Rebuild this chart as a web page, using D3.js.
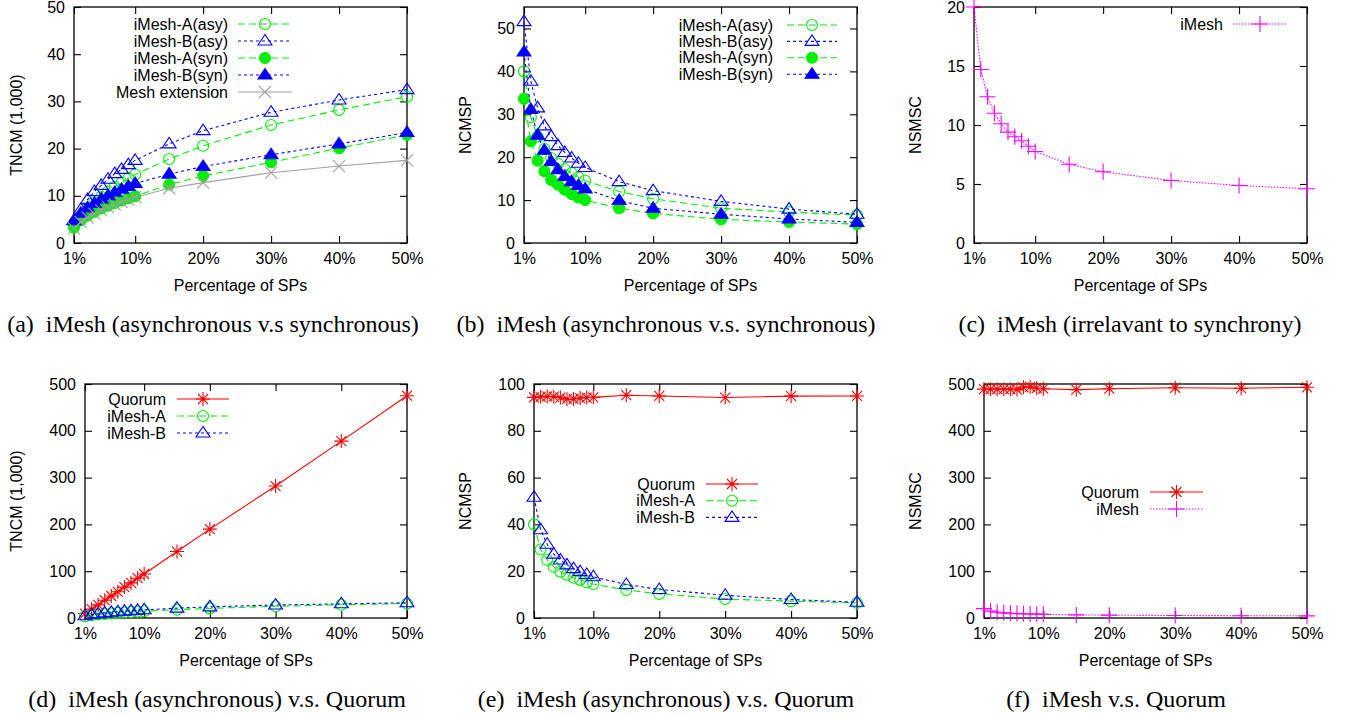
<!DOCTYPE html>
<html><head><meta charset="utf-8">
<script src="https://cdn.jsdelivr.net/npm/d3@7"></script>
<style>body{margin:0;background:#fff} svg{display:block}</style>
</head><body>
<svg id="c" width="1346" height="717"></svg>
<script>
// ---------------- DATA ----------------
const xPct = [1,2,3,4,5,6,7,8,9,10,15,20,30,40,50];
const xTickVals = [1,10,20,30,40,50];
const xTickLabels = ["1%","10%","20%","30%","40%","50%"];

// (a) TNCM (1,000)
const tncmAAsy = [3.8,5.8,7.4,8.7,9.8,10.9,11.9,12.8,13.7,14.5,17.8,20.6,25.0,28.2,31.0];
const tncmBAsy = [4.8,7.1,9.2,10.9,12.2,13.5,14.7,15.6,16.6,17.5,21.0,23.8,27.7,30.3,32.5];
const tncmASyn = [3.3,4.8,5.8,6.6,7.3,7.9,8.5,9.0,9.5,9.9,12.4,14.2,17.1,20.1,22.9];
const tncmBSyn = [4.7,6.3,7.4,8.4,9.3,10.0,10.7,11.4,12.0,12.6,14.6,16.2,18.7,21.0,23.4];
const tncmMeshExt = [3.1,4.4,5.4,6.2,6.9,7.6,8.2,8.7,9.2,9.7,11.6,12.8,14.9,16.3,17.5];
const tncmTicks = [0,10,20,30,40,50];

// (b) NCMSP
const ncmspAAsy = [40.0,29.3,24.8,21.9,19.8,18.5,17.2,16.3,15.3,14.5,12.0,10.3,8.1,7.2,6.5];
const ncmspBAsy = [51.6,37.7,31.5,27.3,24.8,22.7,21.1,19.8,18.6,17.6,14.3,12.2,9.7,7.9,6.7];
const ncmspASyn = [33.6,23.7,19.2,16.7,14.7,13.6,12.4,11.4,10.6,10.0,8.1,6.9,5.5,4.9,4.4];
const ncmspBSyn = [44.5,31.1,25.1,21.6,19.0,17.1,15.5,14.3,13.4,12.6,9.9,8.1,6.7,5.6,4.8];
const ncmspTicks = [0,10,20,30,40,50];

// (c) NSMSC
const nsmscIMesh = [20.0,14.7,12.4,11.0,10.1,9.4,9.0,8.66,8.2,7.75,6.67,6.04,5.30,4.87,4.6];
const nsmscTicks = [0,5,10,15,20];

// (d) TNCM (1,000) vs Quorum
const tncmQuorum = [9.5,19,28,38,47,56,66,75,85,94,142,190,282,378,475];
const tncmQTicks = [0,100,200,300,400,500];

// (e) NCMSP vs Quorum
const ncmspQuorum = [94.3,94.5,94.7,94.6,94.2,93.5,93.6,94.0,94.2,94.3,95.2,94.9,94.2,94.8,94.9];
const ncmspQTicks = [0,20,40,60,80,100];

// (f) NSMSC vs Quorum
const nsmscQuorum = [489,489,489,489,489,488,493,494,491,490,488,490,492,491,493];
const nsmscQTicks = [0,100,200,300,400,500];

// ---------------- STYLES ----------------
const GREEN = "#00ee00", BLUE = "#0000ff", RED = "#ff0000", MAG = "#ff00ff", GRAY = "#a0a0a0";
const DASH_G = "7,4", DASH_B = "3,3", DASH_M = "1.5,1.5";

const panels = [
  {left:74,right:407,top:7,bottom:243,yMax:50,ticks:tncmTicks,ylabel:"TNCM (1,000)",ylx:16,
   series:[
    {name:"iMesh-A(asy)",v:tncmAAsy,c:GREEN,d:DASH_G,m:"circle"},
    {name:"iMesh-B(asy)",v:tncmBAsy,c:BLUE,d:DASH_B,m:"tri"},
    {name:"iMesh-A(syn)",v:tncmASyn,c:GREEN,d:DASH_G,m:"fcircle"},
    {name:"iMesh-B(syn)",v:tncmBSyn,c:BLUE,d:DASH_B,m:"ftri"},
    {name:"Mesh extension",v:tncmMeshExt,c:GRAY,d:null,m:"x"}],
   leg:{tx:228,x1:238,x2:292,y0:24,dy:17},
   cap:"(a)\u00a0\u00a0iMesh (asynchronous v.s synchronous)",capX:213,capY:332},
  {left:524,right:857,top:7,bottom:243,yMax:55,ticks:ncmspTicks,ylabel:"NCMSP",ylx:465,
   series:[
    {name:"iMesh-A(asy)",v:ncmspAAsy,c:GREEN,d:DASH_G,m:"circle"},
    {name:"iMesh-B(asy)",v:ncmspBAsy,c:BLUE,d:DASH_B,m:"tri"},
    {name:"iMesh-A(syn)",v:ncmspASyn,c:GREEN,d:DASH_G,m:"fcircle"},
    {name:"iMesh-B(syn)",v:ncmspBSyn,c:BLUE,d:DASH_B,m:"ftri"}],
   leg:{tx:773,x1:787,x2:837,y0:25,dy:16.4},
   cap:"(b)\u00a0\u00a0iMesh (asynchronous v.s. synchronous)",capX:666,capY:332},
  {left:974,right:1307,top:7,bottom:243,yMax:20,ticks:nsmscTicks,ylabel:"NSMSC",ylx:915,
   series:[
    {name:"iMesh",v:nsmscIMesh,c:MAG,d:DASH_M,m:"plus"}],
   leg:{tx:1223,x1:1233,x2:1287,y0:24,dy:17},
   cap:"(c)\u00a0\u00a0iMesh (irrelavant to synchrony)",capX:1130,capY:332},
  {left:85,right:407,top:384,bottom:618,yMax:500,ticks:tncmQTicks,ylabel:"TNCM (1,000)",ylx:16,
   series:[
    {name:"Quorum",v:tncmQuorum,c:RED,d:null,m:"star"},
    {name:"iMesh-A",v:tncmAAsy,c:GREEN,d:DASH_G,m:"circle"},
    {name:"iMesh-B",v:tncmBAsy,c:BLUE,d:DASH_B,m:"tri"}],
   leg:{tx:166,x1:177,x2:229,y0:399,dy:17},
   cap:"(d)\u00a0\u00a0iMesh (asynchronous) v.s. Quorum",capX:217,capY:707},
  {left:534,right:857,top:384,bottom:618,yMax:100,ticks:ncmspQTicks,ylabel:"NCMSP",ylx:465,
   series:[
    {name:"Quorum",v:ncmspQuorum,c:RED,d:null,m:"star"},
    {name:"iMesh-A",v:ncmspAAsy,c:GREEN,d:DASH_G,m:"circle"},
    {name:"iMesh-B",v:ncmspBAsy,c:BLUE,d:DASH_B,m:"tri"}],
   leg:{tx:695,x1:706,x2:758,y0:484,dy:16.7},
   cap:"(e)\u00a0\u00a0iMesh (asynchronous) v.s. Quorum",capX:666,capY:707},
  {left:984,right:1307,top:384,bottom:618,yMax:500,ticks:nsmscQTicks,ylabel:"NSMSC",ylx:915,
   series:[
    {name:"Quorum",v:nsmscQuorum,c:RED,d:null,m:"star"},
    {name:"iMesh",v:nsmscIMesh,c:MAG,d:DASH_M,m:"plus"}],
   leg:{tx:1139,x1:1150,x2:1203,y0:492,dy:17},
   cap:"(f)\u00a0\u00a0iMesh v.s. Quorum",capX:1116,capY:707}
];

const svg = d3.select("#c");
const SANS = "'Liberation Sans', Arial, Helvetica, sans-serif";
const SERIF = "'Liberation Serif', 'Times New Roman', serif";

function marker(g, type, x, y, c) {
  const sw = 1.1;
  if (type === "circle" || type === "fcircle") {
    g.append("circle").attr("cx", x).attr("cy", y).attr("r", 5.5)
      .attr("fill", type === "fcircle" ? c : "none").attr("stroke", c).attr("stroke-width", sw);
  } else if (type === "tri" || type === "ftri") {
    g.append("path").attr("d", `M${x},${y-6.5}L${x-7},${y+4}L${x+7},${y+4}Z`)
      .attr("fill", type === "ftri" ? c : "none").attr("stroke", c).attr("stroke-width", sw);
  } else if (type === "x") {
    g.append("path").attr("d", `M${x-6},${y-6}L${x+6},${y+6}M${x-6},${y+6}L${x+6},${y-6}`)
      .attr("stroke", c).attr("stroke-width", sw).attr("fill", "none");
  } else if (type === "plus") {
    g.append("path").attr("d", `M${x-8},${y}L${x+8},${y}M${x},${y-8}L${x},${y+8}`)
      .attr("stroke", c).attr("stroke-width", sw).attr("fill", "none");
  } else if (type === "star") {
    g.append("path").attr("d", `M${x-7},${y}L${x+7},${y}M${x},${y-7}L${x},${y+7}M${x-5},${y-5}L${x+5},${y+5}M${x-5},${y+5}L${x+5},${y-5}`)
      .attr("stroke", c).attr("stroke-width", sw).attr("fill", "none");
  }
}

panels.forEach(p => {
  const g = svg.append("g");
  const x = d3.scaleLinear().domain([1, 50]).range([p.left, p.right]);
  const y = d3.scaleLinear().domain([0, p.yMax]).range([p.bottom, p.top]);
  const tl = 7;

  // ticks (inward, mirrored)
  const yAxL = d3.axisLeft(y).tickValues(p.ticks).tickSize(-tl).tickPadding(9).tickFormat(d3.format("d"));
  const yAxR = d3.axisRight(y).tickValues(p.ticks).tickSize(-tl).tickFormat("");
  const xAxB = d3.axisBottom(x).tickValues(xTickVals).tickSize(-tl).tickPadding(10)
      .tickFormat((d, i) => xTickLabels[i]);
  const xAxT = d3.axisTop(x).tickValues(xTickVals).tickSize(-tl).tickFormat("");

  const axes = [
    [yAxL, `translate(${p.left},0)`],
    [yAxR, `translate(${p.right},0)`],
    [xAxB, `translate(0,${p.bottom})`],
    [xAxT, `translate(0,${p.top})`]
  ];
  axes.forEach(([ax, tr]) => {
    const a = g.append("g").attr("transform", tr).call(ax);
    a.select(".domain").remove();
    a.selectAll("line").attr("stroke", "#000").attr("stroke-width", 1.1);
    a.selectAll("text").attr("font-family", SANS).attr("font-size", 16).attr("fill", "#000");
  });

  // frame
  g.append("rect").attr("x", p.left).attr("y", p.top)
    .attr("width", p.right - p.left).attr("height", p.bottom - p.top)
    .attr("fill", "none").attr("stroke", "#000").attr("stroke-width", 1.3);

  // axis titles
  g.append("text").attr("x", (p.left + p.right) / 2).attr("y", p.bottom + 48)
    .attr("text-anchor", "middle").attr("font-family", SANS).attr("font-size", 16)
    .text("Percentage of SPs");
  g.append("text").attr("transform", `translate(${p.ylx},${(p.top + p.bottom) / 2}) rotate(-90)`)
    .attr("text-anchor", "middle").attr("dy", "0.35em").attr("font-family", SANS).attr("font-size", 16)
    .text(p.ylabel);

  // series
  p.series.forEach((s, si) => {
    const pts = xPct.map((xv, i) => [xv, s.v[i]]);
    const line = d3.line().x(d => x(d[0])).y(d => y(d[1]));
    g.append("path").attr("d", line(pts)).attr("fill", "none").attr("stroke", s.c)
      .attr("stroke-width", 1.1).attr("stroke-dasharray", s.d);
    const mg = g.append("g");
    pts.forEach(d => marker(mg, s.m, x(d[0]), y(d[1]), s.c));

    // legend
    const ly = p.leg.y0 + si * p.leg.dy;
    g.append("text").attr("x", p.leg.tx).attr("y", ly).attr("dy", "0.35em")
      .attr("text-anchor", "end").attr("font-family", SANS).attr("font-size", 16).text(s.name);
    g.append("line").attr("x1", p.leg.x1).attr("x2", p.leg.x2).attr("y1", ly).attr("y2", ly)
      .attr("stroke", s.c).attr("stroke-width", 1.1).attr("stroke-dasharray", s.d);
    marker(g, s.m, (p.leg.x1 + p.leg.x2) / 2, ly, s.c);
  });

  // caption
  g.append("text").attr("x", p.capX).attr("y", p.capY).attr("text-anchor", "middle")
    .attr("font-family", SERIF).attr("font-size", 24).text(p.cap);
});
</script>
</body></html>
